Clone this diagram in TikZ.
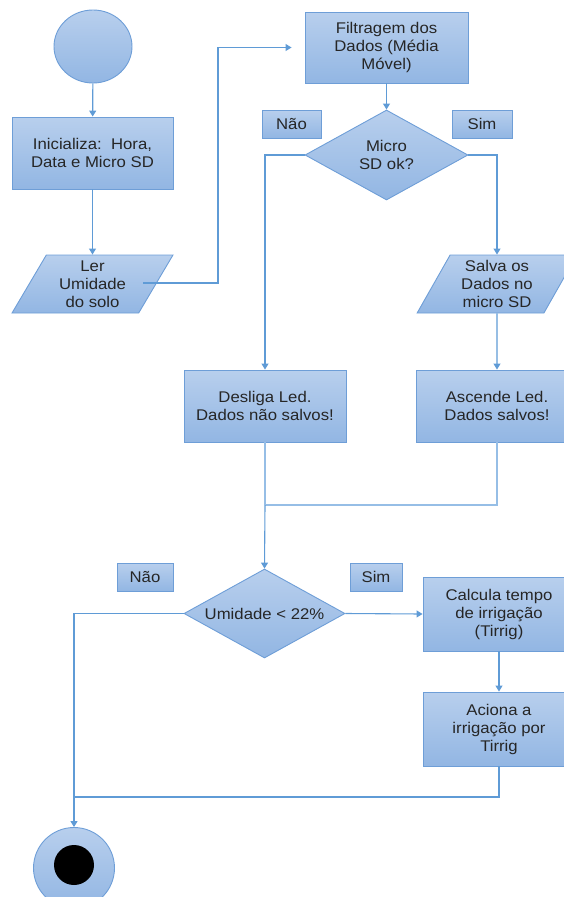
\documentclass[tikz,border=0pt]{standalone}
\usepackage{fontspec}
\setmainfont{Liberation Sans}[FakeStretch=1.08]
\usetikzlibrary{shapes.geometric,arrows.meta}
\definecolor{boxtop}{RGB}{184,207,237}
\definecolor{boxbot}{RGB}{146,182,227}
\definecolor{boxedge}{RGB}{110,158,215}
\definecolor{linec}{RGB}{95,155,214}
\definecolor{linelight}{RGB}{150,190,230}
\definecolor{txt}{RGB}{38,38,38}
\tikzset{
  txtstyle/.style={text=txt, font=\fontsize{15.5}{18}\selectfont, align=center, inner sep=0pt},
  base/.style={draw=boxedge, line width=0.9pt, top color=boxtop, bottom color=boxbot, txtstyle},
  procbox/.style={base, rectangle, minimum height=72pt},
  iobox/.style={base, trapezium, trapezium stretches=true, trapezium left angle=62,
    trapezium right angle=118, minimum height=58pt},
  decbox/.style={base, diamond},
  tagbox/.style={base, rectangle, minimum height=28pt},
  termc/.style={base, ellipse},
  arr/.style={draw=linec, line width=1.1pt, -{Triangle[length=6pt,width=7pt]}},
  conn/.style={draw=linec, line width=1.1pt},
  connl/.style={draw=linelight, line width=1.1pt},
}
\begin{document}
\begin{tikzpicture}[x=1pt,y=-1pt]
\useasboundingbox (0,0) rectangle (564,897);
% nodes
\node[termc, minimum width=78pt, minimum height=73pt] (start) at (93,46.5) {};
\node[procbox, minimum width=161pt] (init) at (92.5,153) {Inicializa:\ \ Hora,\\Data e Micro SD};
\node[iobox, minimum width=161pt] (ler) at (92.5,284) {Ler\\Umidade\\do solo};
\node[procbox, minimum width=163pt, minimum height=71pt] (filt) at (386.5,47.5) {Filtragem dos\\Dados (Média\\Móvel)};
\node[decbox, minimum width=163pt, minimum height=90pt] (d1) at (386.5,155) {};
\node[txtstyle] (d1t) at (d1) {Micro\\SD ok?};
\node[tagbox, minimum width=59pt] (nao1) at (291.5,124) {Não};
\node[tagbox, minimum width=60pt] (sim1) at (482,124) {Sim};
\node[iobox, minimum width=160pt] (salva) at (497,284) {Salva os\\Dados no\\micro SD};
\node[procbox, minimum width=162pt] (desl) at (265,406) {Desliga Led.\\Dados não\ salvos!};
\node[procbox, minimum width=162pt] (asc) at (497,406) {Ascende Led.\\Dados salvos!};
\node[decbox, minimum width=161pt, minimum height=89pt] (d2) at (264.5,613.5) {};
\node[txtstyle] (d2t) at (d2) {Umidade < 22\%};
\node[tagbox, minimum width=56pt] (nao2) at (145,577) {Não};
\node[tagbox, minimum width=52pt] (sim2) at (376,577) {Sim};
\node[procbox, minimum width=152pt, minimum height=74pt] (calc) at (499,614) {Calcula tempo\\de irrigação\\(Tirrig)};
\node[procbox, minimum width=152pt, minimum height=74pt] (acio) at (499,729) {Aciona a\\irrigação por\\Tirrig};
\node[termc, circle, minimum size=81pt] (endc) at (74,868) {};
\node[circle, fill=black, minimum size=40pt, inner sep=0pt] (endin) at (74,865) {};
% helper coordinates
\coordinate (lerout) at (143,283);
\coordinate (j1) at (218,47.5);
\coordinate (m1) at (265,505);
\coordinate (m2) at (74,797);
% connectors
\draw[arr] (start) -- (init);
\draw[arr] (init) -- (ler);
\draw[arr, shorten >=13pt] (lerout) -| (j1) -- (filt.west);
\draw[arr] (filt) -- (d1);
\draw[arr] (d1.west) -| (desl.north);
\draw[arr] (d1.east) -| (salva.north);
\draw[arr] (salva.south) -- (asc.north);
\draw[connl] (asc.south) |- (m1);
\draw[connl] (desl.south) -- (m1);
\draw[arr] (m1) -- (d2.north);
\draw[arr] (d2.east) -- (calc.west);
\draw[arr] (calc) -- (acio);
\draw[conn] (acio.south) |- (m2);
\draw[arr] (d2.west) -| (endc.north);
\end{tikzpicture}
\end{document}
